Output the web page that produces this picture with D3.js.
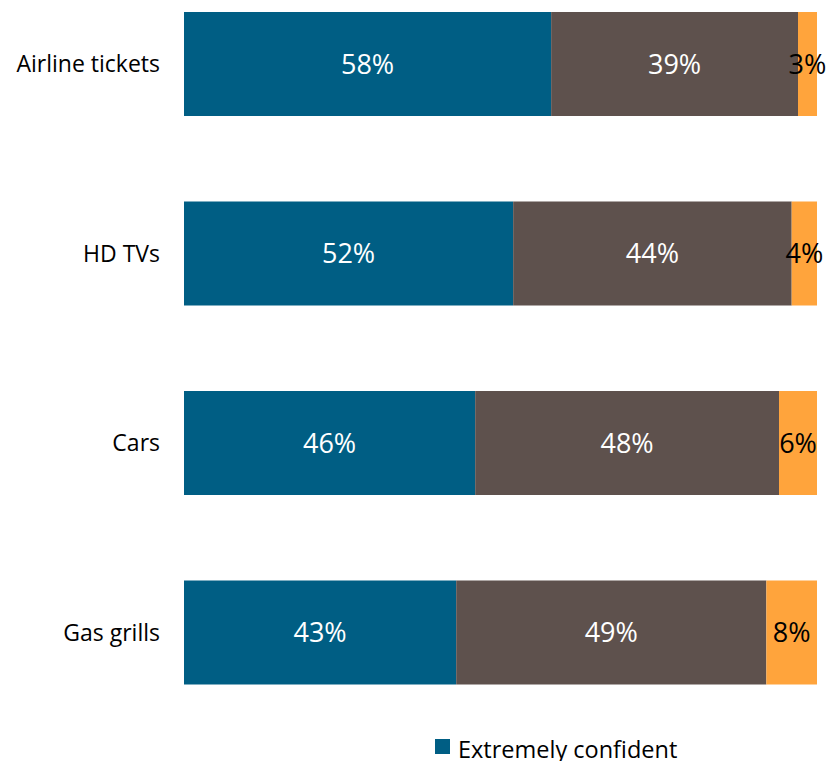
<!DOCTYPE html>
<html>
<head>
<meta charset="utf-8">
<script src="https://cdn.jsdelivr.net/npm/d3@7"></script>
<style>
  body { margin: 0; background: #fff; }
  svg { display: block; font-family: "Open Sans", Lato, sans-serif; }
</style>
</head>
<body>
<div id="chart"></div>
<script>
const categories = ['Airline tickets', 'HD TVs', 'Cars', 'Gas grills'];
const seriesNames = ['Extremely confident', 'Somewhat confident', 'Not confident'];
const extremely = [58, 52, 46, 43];
const somewhat = [39, 44, 48, 49];
const notConfident = [3, 4, 6, 8];

const colors = ['#005e84', '#5e514d', '#ffa43c'];
const textColors = ['#fff', '#fff', '#000'];

const width = 838;
const height = 761;
const margin = { top: 12, right: 21, left: 184 };
const step = 189.5;
const barH = 104;

const data = categories.map((c, i) => ({
  category: c,
  values: [extremely[i], somewhat[i], notConfident[i]]
}));

const svg = d3.select('#chart')
  .append('svg')
  .attr('width', width)
  .attr('height', height);

const x = d3.scaleLinear()
  .domain([0, 100])
  .range([margin.left, width - margin.right]);

const y = d3.scalePoint()
  .domain(categories)
  .range([margin.top, margin.top + step * (categories.length - 1)]);

const stack = d3.stack().keys([0, 1, 2]).value((d, k) => d.values[k]);
const stacked = stack(data);

stacked.forEach((layer, k) => {
  const g = svg.append('g');
  g.selectAll('rect')
    .data(layer)
    .enter()
    .append('rect')
    .attr('x', d => x(d[0]))
    .attr('y', d => y(d.data.category))
    .attr('width', d => x(d[1]) - x(d[0]))
    .attr('height', barH)
    .attr('fill', colors[k]);

  g.selectAll('text')
    .data(layer)
    .enter()
    .append('text')
    .attr('x', d => (x(d[0]) + x(d[1])) / 2)
    .attr('y', d => y(d.data.category) + barH / 2)
    .attr('dy', '0.36em')
    .attr('text-anchor', 'middle')
    .attr('fill', textColors[k])
    .style('font-size', '27px')
    .text(d => (d[1] - d[0]) + '%');
});

// category labels
svg.append('g')
  .selectAll('text')
  .data(categories)
  .enter()
  .append('text')
  .attr('x', margin.left - 24)
  .attr('y', d => y(d) + barH / 2)
  .attr('dy', '0.36em')
  .attr('text-anchor', 'end')
  .attr('fill', '#000')
  .style('font-size', '23px')
  .text(d => d);

// legend: only the first entry is inside the picture
const legend = svg.append('g').attr('transform', 'translate(435,739)');
legend.append('rect')
  .attr('width', 15).attr('height', 15)
  .attr('fill', colors[0]);
legend.append('text')
  .attr('x', 23).attr('y', 19)
  .attr('fill', '#000')
  .style('font-size', '23.5px')
  .text(seriesNames[0]);
</script>
</body>
</html>
